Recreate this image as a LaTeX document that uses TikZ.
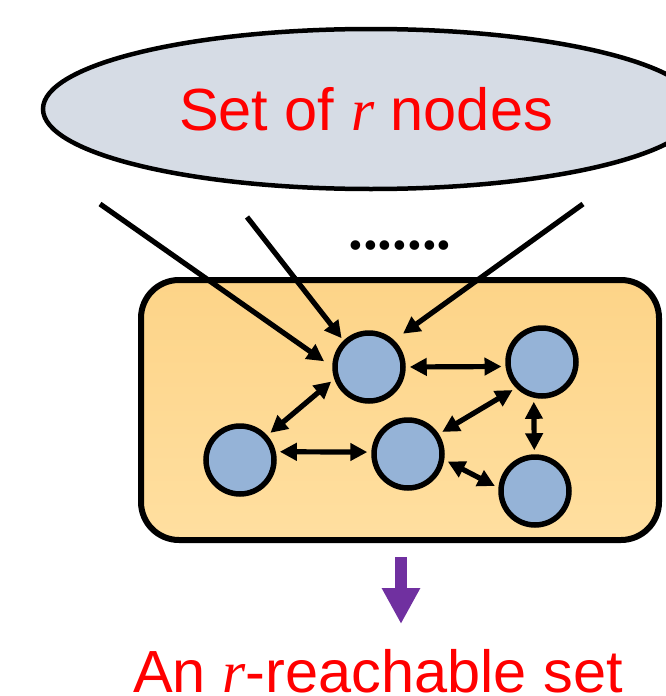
\documentclass[tikz,border=0pt]{standalone}
\usepackage{fontspec}
\setmainfont{Liberation Sans}
\newfontfamily\varfont{Liberation Serif}
\usetikzlibrary{arrows.meta,shapes.geometric}

\definecolor{ellfill}{HTML}{D6DCE5}
\definecolor{nodefill}{HTML}{95B3D7}
\definecolor{boxtop}{HTML}{FDD488}
\definecolor{boxbot}{HTML}{FFDFA0}
\definecolor{purplearrow}{HTML}{7030A0}

\newcommand{\varr}{{\varfont\itshape r}}

\tikzset{
  vertex/.style={circle, draw=black, line width=5.5pt, fill=nodefill,
                 minimum size=68pt, inner sep=0pt},
  link/.style={line width=5.2pt,
               {Triangle[length=17pt,width=17pt]}-{Triangle[length=17pt,width=17pt]},
               shorten <=4pt, shorten >=4pt},
  feed/.style={line width=5.2pt, -{Triangle[length=17pt,width=17pt]}},
  bigtext/.style={text=red, font=\fontsize{59.5}{70}\selectfont, inner sep=0pt, anchor=base}
}

\begin{document}
\begin{tikzpicture}[x=1pt, y=-1pt]
  \useasboundingbox (0,0) rectangle (666,696);

  % source set
  \node[ellipse, draw=black, line width=4.5pt, fill=ellfill,
        minimum width=656pt, minimum height=160pt, inner sep=0pt] (src) at (371,109) {};
  \node[bigtext] (srclabel) at (366,130) {Set of \varr{} nodes};

  % reachable set container
  \node[draw=black, line width=6pt, rounded corners=38pt,
        top color=boxtop, bottom color=boxbot,
        minimum width=518pt, minimum height=260pt, inner sep=0pt] (box) at (400,410) {};

  % vertices
  \node[vertex] (A) at (369,367) {};
  \node[vertex] (B) at (542,362) {};
  \node[vertex] (C) at (240,460) {};
  \node[vertex] (D) at (408,454) {};
  \node[vertex] (E) at (535,491) {};

  % edges inside the set
  \draw[link] (A.0) -- (B.187);
  \draw[link] (A.199) -- (C.42);
  \draw[link] (C.13) -- (D.177);
  \draw[link] (D.33) -- (B.225);
  \draw[link] (B.257) -- (E.91);
  \draw[link] (D.-9) -- (E.175);

  % links coming from the source set
  \coordinate (s1) at (100,204);
  \coordinate (s2) at (247,217);
  \coordinate (s3) at (583,204);
  \draw[feed, shorten >=10pt] (s1) -- (A.180);
  \draw[feed, shorten >=3pt] (s2) -- (A.134);
  \draw[feed, shorten >=11pt] (s3) -- (A.47);

  \node[font=\varfont\bfseries\fontsize{59}{60}\selectfont, inner sep=0pt, anchor=base] (dots) at (400,249) {.......};

  % result
  \coordinate (p1) at (401,557);
  \coordinate (p2) at (401,624);
  \draw[purplearrow, line width=12pt, -{Triangle[length=36pt,width=36pt]}] (p1) -- (p2);
  \node[bigtext] (result) at (378,692) {An \varr-reachable set};
\end{tikzpicture}
\end{document}
